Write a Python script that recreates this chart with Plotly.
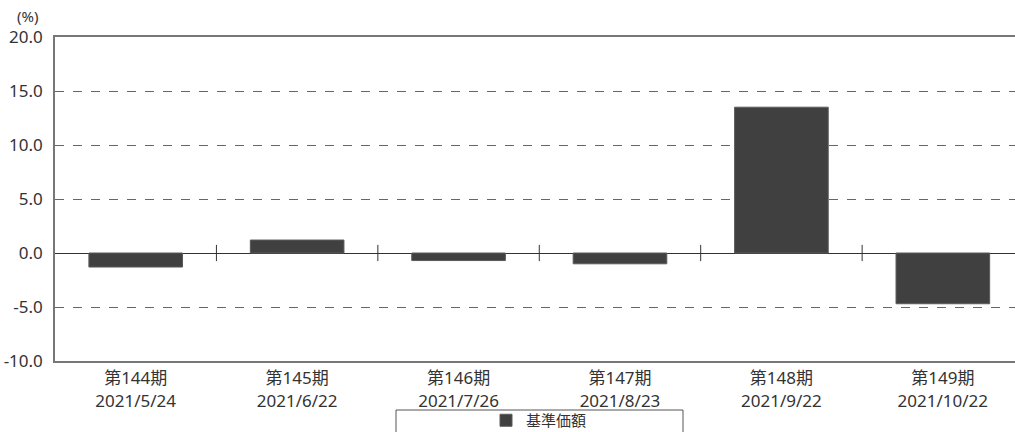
import plotly.graph_objects as go

periods = ["第144期", "第145期", "第146期", "第147期", "第148期", "第149期"]
dates = ["2021/5/24", "2021/6/22", "2021/7/26", "2021/8/23", "2021/9/22", "2021/10/22"]
values = [-1.3, 1.2, -0.7, -1.0, 13.5, -4.7]
series_name = "基準価額"
y_ticks = [20.0, 15.0, 10.0, 5.0, 0.0, -5.0, -10.0]

FONT = "Noto Sans, Noto Sans CJK JP"
TXT = "#333333"
idx = list(range(len(periods)))

fig = go.Figure()
fig.add_trace(go.Bar(
    x=idx, y=values, name=series_name,
    width=0.58,
    marker=dict(color="#404040", line=dict(color="#5a5a5a", width=1)),
    showlegend=True,
))
# invisible trace to carry the date tick labels on a second (overlaid) x axis
fig.add_trace(go.Scatter(x=idx, y=[None] * len(idx), xaxis="x2", showlegend=False,
                         hoverinfo="skip", mode="markers"))

shapes = []
for i in range(len(periods) - 1):
    shapes.append(dict(type="line", xref="x", yref="y", x0=i + 0.5, x1=i + 0.5,
                       y0=-0.75, y1=0.75, line=dict(color="#333333", width=1)))
# legend frame
shapes.append(dict(type="rect", xref="paper", yref="paper",
                   x0=(396 - 55) / 960, x1=(683 - 55) / 960,
                   y0=-(440 - 361) / 324, y1=-(410 - 361) / 324,
                   line=dict(color="#555555", width=1), fillcolor="rgba(0,0,0,0)"))

fig.update_layout(
    width=1015, height=432,
    autosize=False,
    margin=dict(l=55, r=0, t=37, b=71, autoexpand=False),
    paper_bgcolor="white", plot_bgcolor="white",
    font=dict(family=FONT, size=16, color=TXT),
    shapes=shapes,
    showlegend=True,
    legend=dict(orientation="h", x=(539 - 55) / 960, xanchor="center",
                y=-(404 - 361) / 324, yanchor="top",
                font=dict(size=15, family=FONT, color=TXT),
                bgcolor="rgba(0,0,0,0)", borderwidth=0),
    annotations=[dict(text="(%)", xref="paper", yref="paper",
                      x=-(55 - 27) / 960, y=1 + (37 - 16) / 324,
                      xanchor="center", yanchor="middle", showarrow=False,
                      font=dict(size=15, family=FONT, color=TXT))],
    xaxis=dict(
        tickmode="array", tickvals=idx, ticktext=periods,
        range=[-0.5, 5.447], showgrid=False, zeroline=False,
        showline=True, mirror=True, linecolor="#777777", linewidth=1.5,
        ticks="", automargin=False, ticklabelstandoff=1,
        tickfont=dict(size=17, family=FONT, color=TXT),
    ),
    xaxis2=dict(
        overlaying="x", side="bottom", anchor="y", matches="x",
        tickmode="array", tickvals=idx, ticktext=dates,
        range=[-0.5, 5.447], showgrid=False, zeroline=False, showline=False,
        ticks="", automargin=False, ticklabelstandoff=28,
        tickfont=dict(size=17, family=FONT, color=TXT),
    ),
    yaxis=dict(
        range=[-10, 20], tickvals=y_ticks, ticktext=[f"{v:.1f}" for v in y_ticks],
        showgrid=True, gridcolor="#666666", griddash="dash", gridwidth=1,
        zeroline=True, zerolinecolor="#333333", zerolinewidth=1,
        showline=True, linecolor="#777777", linewidth=1.5,
        ticks="", ticklabelstandoff=7, automargin=False,
        tickfont=dict(size=17, family=FONT, color=TXT),
    ),
)

fig.write_html(
    "out.html",
    config={"responsive": False, "displayModeBar": False},
    post_script="document.body.style.margin='0px';document.body.style.overflow='hidden';",
)
